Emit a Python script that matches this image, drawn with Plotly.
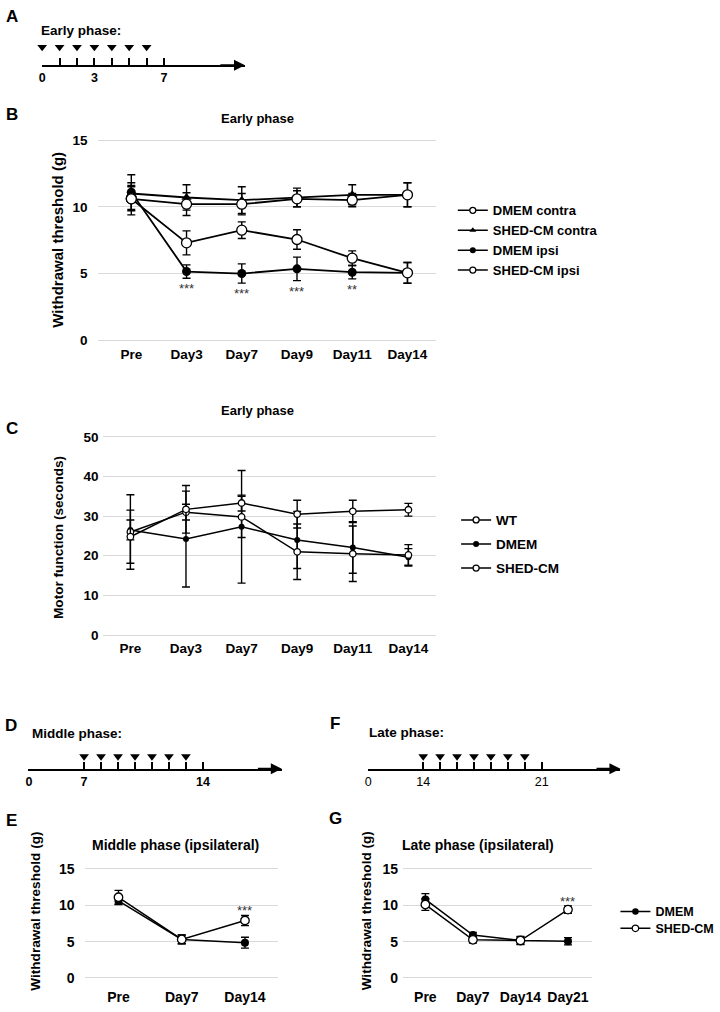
import plotly.graph_objects as go

W, H = 720, 1012
FONT = "Arial, Liberation Sans, Helvetica, sans-serif"
GRID = "#d9d9d9"

# ---------------- injection schedules (A, D, F) ----------------
sched_A_ticks = [0, 1, 2, 3, 4, 5, 6, 7]
sched_A_inject = [0, 1, 2, 3, 4, 5, 6]
sched_A_labels = ["0", "", "", "3", "", "", "", "7"]

sched_D_ticks = [0, 7, 8, 9, 10, 11, 12, 13, 14]
sched_D_inject = [7, 8, 9, 10, 11, 12, 13]
sched_D_labels = ["0", "7", "", "", "", "", "", "", "14"]

sched_F_ticks = [0, 14, 15, 16, 17, 18, 19, 20, 21]
sched_F_inject = [14, 15, 16, 17, 18, 19, 20]
sched_F_labels = ["0", "14", "", "", "", "", "", "", "21"]

# ---------------- B: withdrawal threshold, early phase ----------------
days_B = ["Pre", "Day3", "Day7", "Day9", "Day11", "Day14"]
dmem_contra = [10.6, 10.2, 10.2, 10.6, 10.5, 10.9]
dmem_contra_err = [0.9, 0.85, 0.8, 0.6, 0.5, 0.9]
shed_contra = [11.0, 10.7, 10.5, 10.7, 10.9, 10.9]
shed_contra_err = [0.6, 0.95, 1.0, 0.7, 0.75, 0.9]
dmem_ipsi = [11.1, 5.15, 5.0, 5.35, 5.1, 5.05]
dmem_ipsi_err = [1.3, 0.5, 0.72, 0.88, 0.5, 0.78]
shed_ipsi = [10.6, 7.3, 8.25, 7.55, 6.15, 5.05]
shed_ipsi_err = [1.2, 0.9, 0.62, 0.73, 0.55, 0.78]
sig_B = ["", "***", "***", "***", "**", ""]

# ---------------- C: motor function, early phase ----------------
days_C = ["Pre", "Day3", "Day7", "Day9", "Day11", "Day14"]
wt_C = [24.8, 31.7, 33.3, 30.5, 31.2, 31.6]
wt_C_err = [6.7, 6.0, 2.0, 3.5, 2.8, 1.6]
dmem_C = [26.5, 24.2, 27.3, 24.0, 22.1, 19.6]
dmem_C_err = [2.5, 12.1, 14.2, 7.2, 6.5, 2.2]
shed_C = [26.0, 31.0, 29.8, 21.0, 20.5, 20.2]
shed_C_err = [9.4, 2.0, 5.2, 7.0, 7.0, 2.6]

# ---------------- E: middle phase (ipsilateral) ----------------
days_E = ["Pre", "Day7", "Day14"]
dmem_E = [10.6, 5.3, 4.85]
dmem_E_err = [0.5, 0.6, 0.75]
shed_E = [11.1, 5.3, 7.9]
shed_E_err = [0.95, 0.6, 0.7]
sig_E = ["", "", "***"]

# ---------------- G: late phase (ipsilateral) ----------------
days_G = ["Pre", "Day7", "Day14", "Day21"]
dmem_G = [10.8, 5.9, 5.15, 5.05]
dmem_G_err = [0.8, 0.35, 0.5, 0.5]
shed_G = [10.1, 5.25, 5.15, 9.4]
shed_G_err = [0.8, 0.45, 0.55, 0.5]
sig_G = ["", "", "", "***"]

SCHED_GAP = 3.25     # drawn width (in days) of the broken 0 -> start stretch
ARROW_DAYS = 4.65    # axis overshoot past the last tick


def sched_pos(days, start):
    return [d if d >= start else start - SCHED_GAP for d in days]


def xdom(a, b):
    return [a / W, b / W]


def ydom(top, bottom):
    return [1 - bottom / H, 1 - top / H]


def px(x):
    return x / W


def py(y):
    return 1 - y / H


def bfont(size, bold=True, color="black"):
    return dict(family=FONT, size=size, color=color, weight="bold" if bold else "normal")


OPEN = dict(symbol="circle", color="white", line=dict(color="black", width=1.3))
FILLED = dict(symbol="circle", color="black", line=dict(color="black", width=0))
TRI = dict(symbol="triangle-up", color="black", line=dict(color="black", width=0))


def err(arr):
    return dict(type="data", array=arr, color="black", thickness=1.4, width=4)


fig = go.Figure()

# ---------------- schedule panels ----------------
sched = [
    ("x", "y", sched_A_ticks, sched_A_inject, 0, 0.73),
    ("x4", "y4", sched_D_ticks, sched_D_inject, 7, 0.5),
    ("x5", "y5", sched_F_ticks, sched_F_inject, 14, 0.5),
]
for xa, ya, ticks, inject, start, tri_y in sched:
    fig.add_trace(go.Scatter(
        x=sched_pos(inject, start), y=[tri_y] * len(inject), xaxis=xa, yaxis=ya,
        mode="markers", marker=dict(symbol="triangle-down", size=8.5, color="black"),
        showlegend=False, hoverinfo="skip", cliponaxis=False))
    tip = ticks[-1] + ARROW_DAYS
    fig.add_annotation(x=tip, y=0, ax=tip - 1.5, ay=0, xref=xa, yref=ya,
                       axref=xa, ayref=ya, text="", showarrow=True,
                       arrowhead=2, arrowsize=1.1, arrowwidth=2, arrowcolor="black")

# ---------------- B ----------------
b_series = [
    (dmem_ipsi, dmem_ipsi_err, dict(FILLED, size=9)),
    (shed_contra, shed_contra_err, dict(TRI, size=9)),
    (dmem_contra, dmem_contra_err, dict(OPEN, size=10)),
    (shed_ipsi, shed_ipsi_err, dict(OPEN, size=10)),
]
for vals, e, mk in b_series:
    fig.add_trace(go.Scatter(x=days_B, y=vals, error_y=err(e), xaxis="x2", yaxis="y2",
                             mode="lines+markers", line=dict(color="black", width=1.8),
                             marker=mk, showlegend=False, cliponaxis=False))
for name, mk in [("DMEM contra", OPEN), ("SHED-CM contra", TRI),
                 ("DMEM ipsi", FILLED), ("SHED-CM ipsi", OPEN)]:
    fig.add_trace(go.Scatter(x=[None], y=[None], name=name, xaxis="x2", yaxis="y2",
                             mode="lines+markers", line=dict(color="black", width=1.5),
                             marker=dict(mk, size=6), legend="legend", legendgroup=name))
for d, v, e, s in zip(days_B, dmem_ipsi, dmem_ipsi_err, sig_B):
    if s:
        fig.add_annotation(x=d, y=v - e, xref="x2", yref="y2", text=s, showarrow=False,
                           yanchor="top", yshift=-1, font=bfont(13, False, "#333"))

# ---------------- C ----------------
c_series = [
    (dmem_C, dmem_C_err, dict(FILLED, size=6)),
    (shed_C, shed_C_err, dict(OPEN, size=6.5)),
    (wt_C, wt_C_err, dict(OPEN, size=6.5)),
]
for vals, e, mk in c_series:
    fig.add_trace(go.Scatter(x=days_C, y=vals, error_y=err(e), xaxis="x3", yaxis="y3",
                             mode="lines+markers", line=dict(color="black", width=1.5),
                             marker=mk, showlegend=False, cliponaxis=False))
for name, mk in [("WT", OPEN), ("DMEM", FILLED), ("SHED-CM", OPEN)]:
    fig.add_trace(go.Scatter(x=[None], y=[None], name=name, xaxis="x3", yaxis="y3",
                             mode="lines+markers", line=dict(color="black", width=1.5),
                             marker=dict(mk, size=6), legend="legend2", legendgroup="c" + name))

# ---------------- E and G ----------------
for xa, ya, days, dm, dme, sh, she, sig in [
        ("x6", "y6", days_E, dmem_E, dmem_E_err, shed_E, shed_E_err, sig_E),
        ("x7", "y7", days_G, dmem_G, dmem_G_err, shed_G, shed_G_err, sig_G)]:
    fig.add_trace(go.Scatter(x=days, y=dm, error_y=err(dme), xaxis=xa, yaxis=ya,
                             mode="lines+markers", line=dict(color="black", width=1.5),
                             marker=dict(FILLED, size=8), showlegend=False, cliponaxis=False))
    fig.add_trace(go.Scatter(x=days, y=sh, error_y=err(she), xaxis=xa, yaxis=ya,
                             mode="lines+markers", line=dict(color="black", width=1.5),
                             marker=dict(OPEN, size=8.5), showlegend=False, cliponaxis=False))
    for d, v, e, s in zip(days, sh, she, sig):
        if s:
            fig.add_annotation(x=d, y=v + e, xref=xa, yref=ya, text=s, showarrow=False,
                               yanchor="bottom", yshift=-5, font=bfont(13, False, "#333"))
for name, mk, lg in [("DMEM", FILLED, "legend3"), ("SHED-CM", OPEN, "legend4")]:
    fig.add_trace(go.Scatter(x=[None], y=[None], name=name, xaxis="x7", yaxis="y7",
                             mode="lines+markers", line=dict(color="black", width=1.5),
                             marker=dict(mk, size=6.5), legend=lg))


# ---------------- axes ----------------
def sched_axes(xdomain, ydomain, ticks, labels, start, bold):
    pos = sched_pos(ticks, start)
    xa = dict(domain=xdomain, range=[pos[0] - 0.03, ticks[-1] + ARROW_DAYS],
              showgrid=False, zeroline=False, showline=True, linecolor="black", linewidth=2,
              ticks="inside", ticklen=7, tickwidth=2, tickcolor="black",
              tickvals=pos, ticktext=labels, tickfont=bfont(12.5, bold), fixedrange=True)
    ya = dict(domain=ydomain, range=[0, 1], visible=False, fixedrange=True)
    return xa, ya


def cat_axis(xdomain, rng, size=13.5):
    return dict(domain=xdomain, type="category", range=rng, showgrid=False, zeroline=False,
                showline=False, ticks="", tickfont=bfont(size))


def val_axis(ydomain, rng, tickvals, standoff, size=13.5):
    return dict(domain=ydomain, range=rng, tickvals=tickvals, showgrid=True, gridcolor=GRID,
                gridwidth=1, zeroline=False, showline=False, ticks="",
                ticklabelstandoff=standoff, tickfont=bfont(size))


xa1, ya1 = sched_axes(xdom(38.8, 243), ydom(36.7, 61.7), sched_A_ticks, sched_A_labels, 0, True)
xa4, ya4 = sched_axes(xdom(25.5, 280), ydom(746.7, 771.7), sched_D_ticks, sched_D_labels, 7, True)
xa5, ya5 = sched_axes(xdom(366.2, 620), ydom(746.7, 771.7), sched_F_ticks, sched_F_labels, 14, False)

layout_axes = dict(
    xaxis=dict(xa1, anchor="y"), yaxis=dict(ya1, anchor="x"),
    xaxis4=dict(xa4, anchor="y4"), yaxis4=dict(ya4, anchor="x4"),
    xaxis5=dict(xa5, anchor="y5"), yaxis5=dict(ya5, anchor="x5"),
    xaxis2=dict(cat_axis(xdom(95, 435), [-0.61, 5.52]), anchor="y2"),
    yaxis2=dict(val_axis(ydom(133.3, 343.3), [-0.3, 15.3], [0, 5, 10, 15], 9), anchor="x2"),
    xaxis3=dict(cat_axis(xdom(100, 435), [-0.5, 5.5]), anchor="y3"),
    yaxis3=dict(val_axis(ydom(433.5, 639.9), [-0.8, 50.8], [0, 10, 20, 30, 40, 50], 3), anchor="x3"),
    xaxis6=dict(cat_axis(xdom(82, 276), [-0.535, 2.52], 14), anchor="y6"),
    yaxis6=dict(val_axis(ydom(869.0, 991.5), [-1.2, 15.5], [0, 5, 10, 15], 9, 14), anchor="x6"),
    xaxis7=dict(cat_axis(xdom(401.7, 591.7), [-0.47, 3.51], 14), anchor="y7"),
    yaxis7=dict(val_axis(ydom(869.0, 991.5), [-1.2, 15.5], [0, 5, 10, 15], 4, 14), anchor="x7"),
)

# ---------------- text ----------------
texts = [
    ("A", 9, 12.5, 17, "center", 0), ("B", 9, 111, 17, "center", 0),
    ("C", 9, 428, 17, "center", 0), ("D", 8.5, 728, 17, "center", 0),
    ("F", 333, 726, 17, "center", 0), ("E", 9, 824, 17, "center", 0),
    ("G", 334, 822, 17, "center", 0),
    ("Early phase:", 36, 27, 13.5, "left", 0),
    ("Middle phase:", 27, 736, 13.5, "left", 0),
    ("Late phase:", 366, 735, 13.5, "left", 0),
    ("Early phase", 256, 116, 13, "center", 0),
    ("Early phase", 256, 410, 13, "center", 0),
    ("Middle phase (ipsilateral)", 173, 849, 14, "center", 0),
    ("Late phase (ipsilateral)", 477, 849, 14, "center", 0),
    ("Withdrawal threshold (g)", 55, 238, 15, "center", -90),
    ("Motor function (seconds)", 55, 538, 13.6, "center", -90),
    ("Withdrawal threshold (g)", 33, 915, 13.6, "center", -90),
    ("Withdrawal threshold (g)", 365, 915, 13.6, "center", -90),
]
for t, x, y, s, anchor, ang in texts:
    fig.add_annotation(x=px(x), y=py(y), xref="paper", yref="paper", text=t,
                       showarrow=False, xanchor=anchor, yanchor="middle",
                       textangle=ang, font=bfont(s))

leg = dict(bgcolor="rgba(0,0,0,0)", borderwidth=0, font=bfont(13), xanchor="left",
           yanchor="middle", itemclick=False, itemdoubleclick=False)

fig.update_layout(
    width=W, height=H, margin=dict(l=0, r=0, t=0, b=0),
    paper_bgcolor="white", plot_bgcolor="white",
    font=dict(family=FONT, color="black"),
    legend=dict(leg, x=px(451.7), y=py(238.5), tracegroupgap=0),
    legend2=dict(leg, x=px(455), y=py(545), tracegroupgap=3.5, font=bfont(13.5)),
    legend3=dict(leg, x=px(615), y=py(916), font=bfont(12.5)),
    legend4=dict(leg, x=px(615), y=py(933), font=bfont(12.5)),
    **layout_axes,
)

# the page body has a default 8px margin; drop it so the figure fills the window
fig.write_html("out.html", config={"displayModeBar": False},
               post_script="document.body.style.margin = '0px';")
